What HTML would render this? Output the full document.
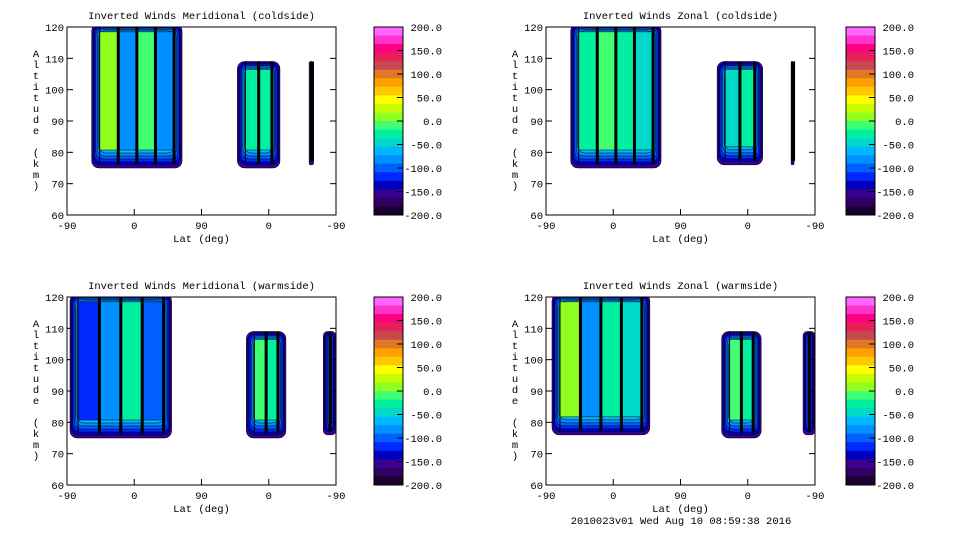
<!DOCTYPE html>
<html><head><meta charset="utf-8"><style>
body{margin:0;background:#fff;width:960px;height:540px;overflow:hidden}
svg text{font-family:"Liberation Mono",monospace;font-size:10.5px;fill:#000}
</style></head><body>
<svg id="s" width="960" height="540" xmlns="http://www.w3.org/2000/svg"></svg>
<script>
// ---- data ----
const xTickLabels = ["-90","0","90","0","-90"];
const yTickLabels = [60,70,80,90,100,110,120];
const cbarLabels = ["200.0","150.0","100.0","50.0","0.0","-50.0","-100.0","-150.0","-200.0"];
const panelTitles = ["Inverted Winds Meridional (coldside)","Inverted Winds Zonal (coldside)","Inverted Winds Meridional (warmside)","Inverted Winds Zonal (warmside)"];
// block data per panel: [u0,u1 (0..360 axis units), altBottom, altTop]
const blocksP1 = [[33,154,75,121],[228,285,75,109],[324,330,76,109]];
const stripsP1 = [[15,-90,-10,-90],[-30,-20],[-200]];
const blocksP2 = [[33,154,75,121],[229,290,76,109],[328,332,76,109]];
const stripsP2 = [[-20,0,-20,-40],[-40,-30],[-200]];
const blocksP3 = [[4,140,75,121],[240,293,75,109],[343,360,76,109]];
const stripsP3 = [[-130,-90,-30,-100],[-10,-20],[-150]];
const blocksP4 = [[8,139,76,121],[235,288,75,109],[344,360,76,109]];
const stripsP4 = [[10,-90,-30,-40],[0,-30],[-160]];
const cmap = ["#ff66ff","#ff33cc","#ff0080","#e8205a","#c84850","#e07828","#ffa000","#ffc800","#ffff00","#c8ff00","#90ff20","#40ff70","#00f0a0","#00d8c8","#00b8ff","#0090ff","#0060ff","#0028ff","#0000c0","#3a0090","#300060","#1a0030"];
// ---- render ----
const NS="http://www.w3.org/2000/svg";
const svg=document.getElementById('s');
function el(t,a,p){const e=document.createElementNS(NS,t);for(const k in a)e.setAttribute(k,a[k]);(p||svg).appendChild(e);return e;}
function col(v){let i=Math.round((200-v)/400*(cmap.length-1));return cmap[Math.max(0,Math.min(cmap.length-1,i))];}
const panels=[{x:67,y:27,b:blocksP1,s:stripsP1,cb:374},{x:546,y:27,b:blocksP2,s:stripsP2,cb:846},{x:67,y:297,b:blocksP3,s:stripsP3,cb:374},{x:546,y:297,b:blocksP4,s:stripsP4,cb:846}];
const W=269,H=188;
panels.forEach((P,pi)=>{
  const g=el('g',{});
  
  
  const xs=u=>P.x+u/360*W, ys=a=>P.y+H-(a-60)/60*H;
  const cid='c'+pi;
  const cp=el('clipPath',{id:cid},g);el('rect',{x:P.x,y:P.y,width:W,height:H},cp);
  const pg=el('g',{'clip-path':`url(#${cid})`},g);
  P.b.forEach((B,bi)=>{
    const x0=xs(B[0]),x1=xs(B[1]),yt=ys(B[3]),yb=ys(B[2]);
    const bg=el('g',{},pg);
    
    
    const w=x1-x0,h=yb-yt;
    const rings=["#3a0090","#0000c0","#0028ff","#0060ff","#0090ff","#00b8ff"];
    rings.forEach((c,i)=>{const d=Math.min(i*1.4,w/2-0.5);el('rect',{x:x0+d,y:yt+d,width:Math.max(w-2*d,1),height:Math.max(h-2*d-i*1.6,1),rx:Math.min(7,w/3),fill:c,stroke:'#000','stroke-width':0.5},bg);});
    const ins=Math.min(8,w/2-0.5),n=P.s[bi].length,sw=(w-2*ins)/n;
    P.s[bi].forEach((v,k)=>{
      const r=el('rect',{x:x0+ins+k*sw,y:yt+ins,width:Math.max(sw,1),height:Math.max(h-2*ins-10,1),fill:col(v),stroke:'#000','stroke-width':0.5},bg);
      
      
      el('line',{x1:x0+ins+k*sw,x2:x0+ins+k*sw,y1:yt,y2:yb-4,stroke:'#000','stroke-width':k==0?1:3},bg);
    });
    el('line',{x1:x1-ins,x2:x1-ins,y1:yt,y2:yb-4,stroke:'#000','stroke-width':w<10?4:3},bg);
  });
  el('rect',{x:P.x,y:P.y,width:W,height:H,fill:'none',stroke:'#000','stroke-width':1},g);
  xTickLabels.forEach((t,i)=>{const x=P.x+i*W/4;el('line',{x1:x,x2:x,y1:P.y+H,y2:P.y+H-6,stroke:'#000'},g);const tx=el('text',{x:x,y:P.y+H+14,'text-anchor':'middle'},g);tx.textContent=t;});
  yTickLabels.forEach(v=>{const y=ys(v);el('line',{x1:P.x,x2:P.x+6,y1:y,y2:y,stroke:'#000'},g);el('line',{x1:P.x+W,x2:P.x+W-6,y1:y,y2:y,stroke:'#000'},g);const tx=el('text',{x:P.x-3,y:y+4,'text-anchor':'end'},g);tx.textContent=v;});
  const xt=el('text',{x:P.x+W/2,y:P.y+H+27,'text-anchor':'middle'},g);xt.textContent='Lat (deg)';
  
  "Altitude (km)".split('').forEach((c,i)=>{const t=el('text',{x:P.x-31,y:P.y+30+i*11,'text-anchor':'middle'},g);t.textContent=c;});
  const tt=el('text',{x:P.x+W/2,y:P.y-8,'text-anchor':'middle'},g);tt.textContent=panelTitles[pi];
  
  const cb=el('g',{},g);
  
  
  const nb=cmap.length,bh=H/nb;
  cmap.forEach((c,i)=>el('rect',{x:P.cb,y:P.y+i*bh,width:29,height:bh+0.5,fill:c},cb));
  el('rect',{x:P.cb,y:P.y,width:29,height:H,fill:'none',stroke:'#000'},cb);
  cbarLabels.forEach((t,i)=>{const y=P.y+i*H/8;el('line',{x1:P.cb+23,x2:P.cb+29,y1:y,y2:y,stroke:'#000'},cb);const tx=el('text',{x:P.cb+68,y:y+4,'text-anchor':'end'},cb);tx.textContent=t;});
});
const f=el('text',{x:681,y:524,'text-anchor':'middle'});f.textContent='2010023v01 Wed Aug 10 08:59:38 2016';

</script>
</body></html>
